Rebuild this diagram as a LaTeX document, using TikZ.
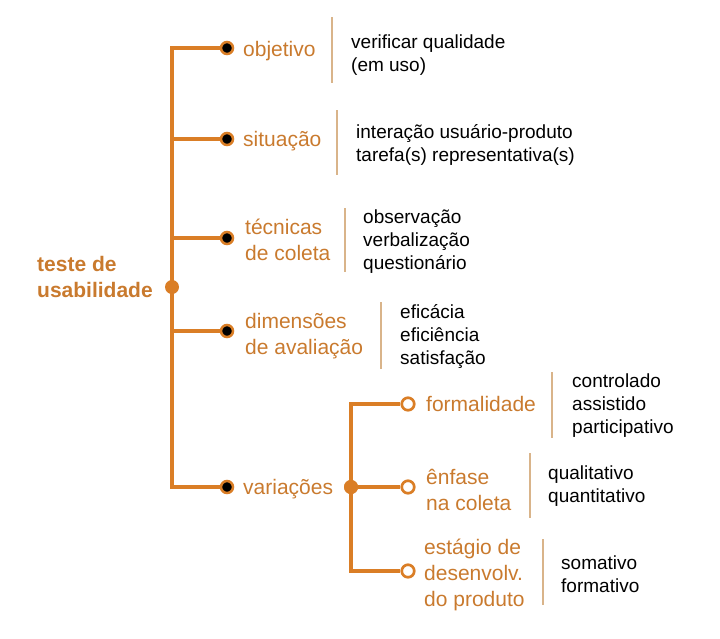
\documentclass[tikz,border=0pt]{standalone}
\usepackage{fontspec}
\setmainfont{Liberation Sans}
\definecolor{org}{HTML}{DA7E26}
\definecolor{orgtxt}{HTML}{C97A2E}
\definecolor{sep}{HTML}{D9B48A}
\begin{document}
\begin{tikzpicture}[x=1pt,y=-1pt,
 line/.style={draw=org,line width=3.1pt},
 blk/.style={circle,draw=org,fill=black,line width=2.5pt,inner sep=0pt,minimum size=12pt},
 ring/.style={circle,draw=org,fill=white,line width=2.7pt,inner sep=0pt,minimum size=12.5pt},
 dot/.style={circle,fill=org,inner sep=0pt,minimum size=14pt},
 lab/.style={anchor=west,align=left,text=orgtxt,font=\fontsize{21}{26}\selectfont,inner sep=0pt},
 desc/.style={anchor=west,align=left,font=\fontsize{19}{23}\selectfont,inner sep=0pt},
 sepl/.style={draw=sep,line width=1.8pt}]
\useasboundingbox (0,0) rectangle (720,638);
% root
\node[lab,font=\fontsize{21}{26}\selectfont\bfseries] (root) at (37,277) {teste de\\usabilidade};
\coordinate (top) at (172,48);
\coordinate (bot) at (172,487);
\coordinate (b2) at (172,139);
\coordinate (b3) at (172,238);
\coordinate (b4) at (172,331);
% first level markers
\node[blk] (m1) at (227,48) {};
\node[blk] (m2) at (227,139) {};
\node[blk] (m3) at (227,238) {};
\node[blk] (m4) at (227,331) {};
\node[blk] (m5) at (227,487) {};
\draw[line] (m1) -- (top) -- (bot) -- (m5);
\draw[line] (b2) -- (m2);
\draw[line] (b3) -- (m3);
\draw[line] (b4) -- (m4);
\node[dot] (rdot) at (172,287) {};
% labels
\node[lab] (l1) at (243,51) {objetivo};
\node[lab] (l2) at (243,141) {situação};
\node[lab] (l3) at (245,240) {técnicas\\de coleta};
\node[lab] (l4) at (245,336) {dimensões\\de avaliação};
\node[lab] (l5) at (243,489) {variações};
% second level
\coordinate (s1) at (351,404);
\coordinate (s3) at (351,571);
\node[ring] (r1) at (408,404) {};
\node[ring] (r2) at (408,487) {};
\node[ring] (r3) at (408,571) {};
\draw[line] (r1) -- (s1) -- (s3) -- (r3);
\node[dot] (vdot) at (351,487) {};
\draw[line] (vdot) -- (r2);
\node[dot] at (351,487) {};
\node[lab] (l6) at (426,404) {formalidade};
\node[lab] (l7) at (426,490) {ênfase\\na coleta};
\node[lab] (l8) at (424,575) {estágio de\\desenvolv.\\do produto};
% separators
\draw[sepl] (332,17) -- (332,83);
\draw[sepl] (337,110) -- (337,175);
\draw[sepl] (345,208) -- (345,272);
\draw[sepl] (381,302) -- (381,369);
\draw[sepl] (552,372) -- (552,438);
\draw[sepl] (530,453) -- (530,518);
\draw[sepl] (543,539) -- (543,605);
% descriptions
\node[desc] (d1) at (351,55) {verificar qualidade\\(em uso)};
\node[desc] (d2) at (356,145) {interação usuário-produto\\tarefa(s) representativa(s)};
\node[desc] (d3) at (363,242) {observação\\verbalização\\questionário};
\node[desc] (d4) at (400,337) {eficácia\\eficiência\\satisfação};
\node[desc] (d5) at (572,406) {controlado\\assistido\\participativo};
\node[desc] (d6) at (548,486) {qualitativo\\quantitativo};
\node[desc] (d7) at (561,574) {somativo\\formativo};
\end{tikzpicture}
\end{document}
